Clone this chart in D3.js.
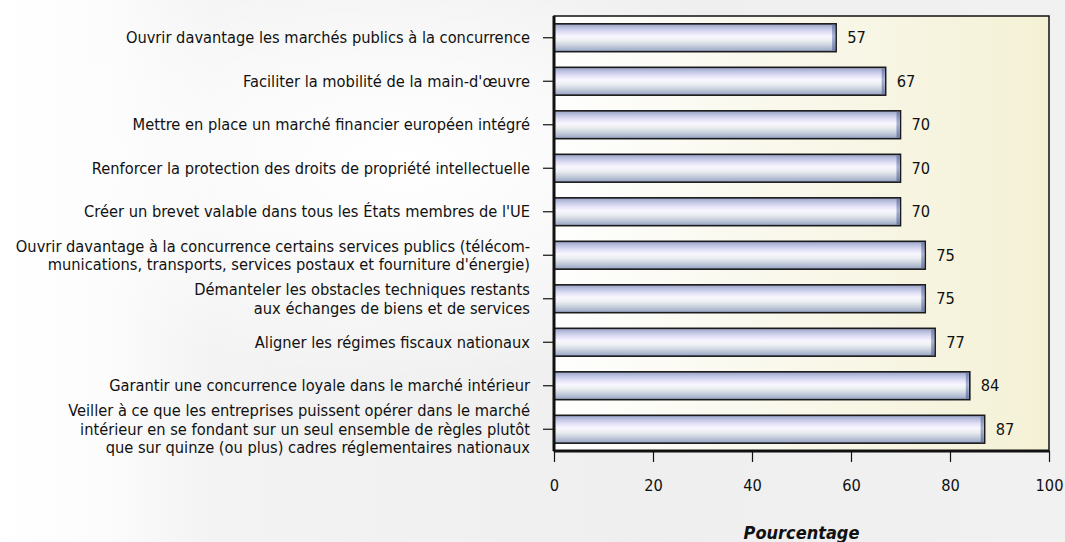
<!DOCTYPE html>
<html lang="fr">
<head>
<meta charset="utf-8">
<script src="https://d3js.org/d3.v7.min.js"></script>
<style>
  body { margin: 0; background: #efefef; }
  svg { display: block; }
  .lbl { font-family: "DejaVu Sans", sans-serif; font-stretch: condensed; font-size: 16.3px; fill: #111; }
</style>
</head>
<body>
<div id="chart"></div>
<script>
// data
var categories = [
  ["Ouvrir davantage les marchés publics à la concurrence"],
  ["Faciliter la mobilité de la main-d'œuvre"],
  ["Mettre en place un marché financier européen intégré"],
  ["Renforcer la protection des droits de propriété intellectuelle"],
  ["Créer un brevet valable dans tous les États membres de l'UE"],
  ["Ouvrir davantage à la concurrence certains services publics (télécom-", "munications, transports, services postaux et fourniture d'énergie)"],
  ["Démanteler les obstacles techniques restants", "aux échanges de biens et de services"],
  ["Aligner les régimes fiscaux nationaux"],
  ["Garantir une concurrence loyale dans le marché intérieur"],
  ["Veiller à ce que les entreprises puissent opérer dans le marché", "intérieur en se fondant sur un seul ensemble de règles plutôt", "que sur quinze (ou plus) cadres réglementaires nationaux"]
];
var values = [57, 67, 70, 70, 70, 75, 75, 77, 84, 87];
var xTicks = [0, 20, 40, 60, 80, 100];
var axisTitle = "Pourcentage";

var W = 1065, H = 542;
var margin = {top: 16, right: 16, bottom: 91, left: 554};
var width = W - margin.left - margin.right,
    height = H - margin.top - margin.bottom;

var svg = d3.select("#chart").append("svg")
  .attr("width", W).attr("height", H);

var defs = svg.append("defs");

// page background: white left edge, light grey body, soft white blob
var bgLin = defs.append("linearGradient").attr("id", "bgLin")
  .attr("x1", "0").attr("x2", "1").attr("y1", "0").attr("y2", "0");
[["0", "#ffffff"], ["0.1", "#fcfcfc"], ["0.2", "#f3f3f3"], ["0.6", "#efefef"], ["1", "#f1f1f1"]]
  .forEach(function(s) { bgLin.append("stop").attr("offset", s[0]).attr("stop-color", s[1]); });
var bgGrad = defs.append("radialGradient").attr("id", "bgSwirl")
  .attr("cx", "0.38").attr("cy", "0.3").attr("r", "0.4");
bgGrad.append("stop").attr("offset", "0").attr("stop-color", "#ffffff").attr("stop-opacity", 1);
bgGrad.append("stop").attr("offset", "0.5").attr("stop-color", "#ffffff").attr("stop-opacity", 0.6);
bgGrad.append("stop").attr("offset", "1").attr("stop-color", "#ffffff").attr("stop-opacity", 0);

var plotGrad = defs.append("linearGradient").attr("id", "plotBg")
  .attr("x1", "0").attr("x2", "1").attr("y1", "0").attr("y2", "0");
plotGrad.append("stop").attr("offset", "0").attr("stop-color", "#fefefe");
plotGrad.append("stop").attr("offset", "1").attr("stop-color", "#f4f1d6");

var barGrad = defs.append("linearGradient").attr("id", "barFill")
  .attr("x1", "0").attr("x2", "0").attr("y1", "0").attr("y2", "1");
[["0", "#98a0c4"], ["0.15", "#bec4e2"], ["0.3", "#e2e0f6"], ["0.45", "#f8f6fe"],
 ["0.6", "#eceff2"], ["0.75", "#cfd6e0"], ["0.9", "#adb8d0"], ["1", "#929ec0"]]
  .forEach(function(s) { barGrad.append("stop").attr("offset", s[0]).attr("stop-color", s[1]); });

var endGrad = defs.append("linearGradient").attr("id", "barEnd")
  .attr("x1", "0").attr("x2", "0").attr("y1", "0").attr("y2", "1");
[["0", "#7280b0"], ["0.45", "#a8b2d6"], ["1", "#6e7ca8"]]
  .forEach(function(s) { endGrad.append("stop").attr("offset", s[0]).attr("stop-color", s[1]); });

svg.append("rect").attr("width", W).attr("height", H).attr("fill", "url(#bgLin)");
svg.append("rect").attr("width", W).attr("height", H).attr("fill", "url(#bgSwirl)");

var g = svg.append("g").attr("transform", "translate(" + margin.left + "," + margin.top + ")");

var x = d3.scaleLinear().domain([0, 100]).range([0, width]);
var y = d3.scaleBand().domain(d3.range(values.length)).range([0, height]).paddingInner(0.36).paddingOuter(0.18);

g.append("rect").attr("width", width).attr("height", height).attr("fill", "url(#plotBg)")
  .attr("stroke", "#111").attr("stroke-width", 1.5);

var bars = g.selectAll(".bar").data(values).enter().append("g").attr("class", "bar");
bars.append("rect")
  .attr("x", 0).attr("y", function(d, i) { return y(i); })
  .attr("width", function(d) { return x(d); }).attr("height", y.bandwidth())
  .attr("fill", "url(#barFill)").attr("stroke", "#1a1a1a").attr("stroke-width", 1.6);
bars.append("rect")
  .attr("x", function(d) { return x(d) - 4; }).attr("y", function(d, i) { return y(i) + 1; })
  .attr("width", 3).attr("height", y.bandwidth() - 2)
  .attr("fill", "url(#barEnd)");
bars.append("text").attr("class", "lbl")
  .attr("x", function(d) { return x(d) + 11; })
  .attr("y", function(d, i) { return y(i) + y.bandwidth() / 2; })
  .attr("dy", "0.35em")
  .text(function(d) { return d; });

// left axis
var yAxis = g.append("g").call(d3.axisLeft(y).tickSize(11).tickFormat(""));
yAxis.select(".domain").remove();
yAxis.selectAll("line").attr("stroke", "#111").attr("stroke-width", 1.2);
g.append("line").attr("x1", 0).attr("x2", 0).attr("y1", 0).attr("y2", height)
  .attr("stroke", "#111").attr("stroke-width", 3);

var lineH = 18.5;
categories.forEach(function(lines, i) {
  var cy = y(i) + y.bandwidth() / 2;
  var t = g.append("text").attr("class", "lbl").attr("text-anchor", "end")
    .attr("x", -24).attr("y", cy - (lines.length - 1) * lineH / 2);
  lines.forEach(function(l, k) {
    t.append("tspan").attr("x", -24).attr("dy", k === 0 ? "0.35em" : lineH).text(l);
  });
});

// bottom axis
var xAxis = g.append("g").attr("transform", "translate(0," + height + ")")
  .call(d3.axisBottom(x).tickValues(xTicks).tickSize(11).tickPadding(17));
xAxis.select(".domain").remove();
xAxis.selectAll("line").attr("stroke", "#111").attr("stroke-width", 1.2);
xAxis.selectAll("text").attr("class", "lbl").attr("font-size", null).attr("font-family", null);
g.append("line").attr("x1", 0).attr("x2", width).attr("y1", height).attr("y2", height)
  .attr("stroke", "#111").attr("stroke-width", 3);

g.append("text").attr("class", "lbl")
  .attr("x", width / 2).attr("y", height + 88)
  .attr("text-anchor", "middle")
  .style("font-weight", "bold").style("font-style", "italic").style("font-size", "18px")
  .text(axisTitle);
</script>
</body>
</html>
